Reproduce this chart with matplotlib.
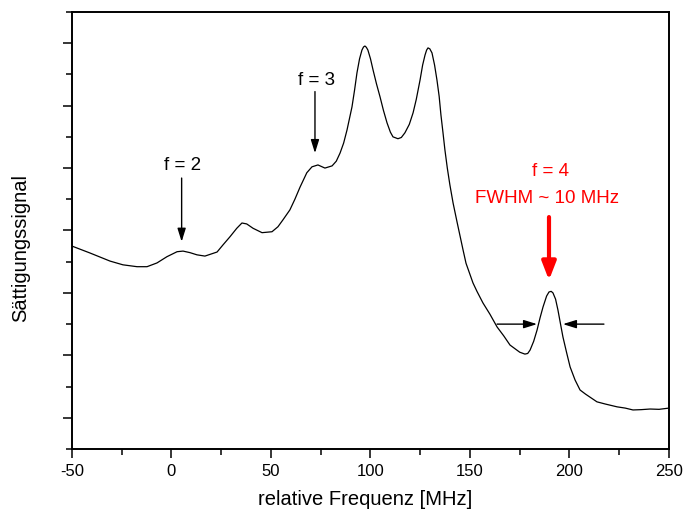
import matplotlib
matplotlib.use("Agg")
import matplotlib.pyplot as plt
from matplotlib.ticker import MultipleLocator, NullFormatter

plt.rcParams['font.family'] = ['Liberation Sans', 'DejaVu Sans']
plt.rcParams['axes.unicode_minus'] = False

# ── Data ─────────────────────────────────────────────────────────────────────
freq = [-50.0, -41.0, -30.9, -24.4, -17.3, -12.3, -7.3, -2.3, 2.8, 5.8, 9.3,
        12.8, 16.8, 22.9, 25.9, 29.4, 32.8, 35.4, 37.8, 41.0, 45.5, 50.5,
        53.5, 56.0, 59.5, 62.0, 64.6, 68.0, 70.6, 73.6, 77.1, 80.7, 82.8,
        84.7, 86.5, 88.2, 90.7, 92.0, 93.2, 94.5, 95.7, 96.5, 97.2, 97.9,
        98.7, 100.0, 101.3, 103.0, 104.8, 106.5, 108.3, 110.0, 111.3, 113.8,
        115.5, 117.3, 119.5, 121.4, 123.0, 124.9, 126.2, 127.4, 128.2, 128.9,
        129.8, 130.9, 132.2, 133.4, 134.5, 135.4, 136.4, 137.4, 138.6, 139.9,
        141.5, 143.5, 146.5, 148.0, 151.5, 153.5, 156.5, 160.0, 163.6, 167.0,
        170.1, 173.5, 175.0, 177.6, 179.0, 180.2, 182.0, 183.7, 185.2, 186.7,
        188.5, 189.7, 190.8, 191.7, 193.0, 194.2, 195.5, 196.7, 198.5, 200.3,
        202.8, 205.3, 208.0, 213.8, 218.0, 223.9, 228.0, 231.9, 236.0, 240.5,
        245.0, 250.0]
signal = [6.50, 6.28, 6.02, 5.90, 5.84, 5.84, 5.96, 6.16, 6.32, 6.34, 6.29,
          6.22, 6.18, 6.31, 6.54, 6.80, 7.07, 7.24, 7.21, 7.07, 6.93, 6.96,
          7.12, 7.34, 7.66, 8.00, 8.39, 8.85, 9.04, 9.10, 9.00, 9.07, 9.22,
          9.48, 9.80, 10.22, 10.96, 11.50, 12.05, 12.50, 12.78, 12.88, 12.91,
          12.87, 12.78, 12.50, 12.14, 11.70, 11.28, 10.85, 10.45, 10.15, 10.00,
          9.94, 9.98, 10.13, 10.40, 10.77, 11.20, 11.82, 12.30, 12.62, 12.78,
          12.85, 12.82, 12.69, 12.30, 11.82, 11.30, 10.70, 10.15, 9.58, 9.00,
          8.46, 7.88, 7.27, 6.38, 5.95, 5.32, 5.05, 4.68, 4.32, 3.91, 3.62,
          3.33, 3.17, 3.10, 3.04, 3.06, 3.17, 3.45, 3.81, 4.20, 4.55,
          4.90, 5.03, 5.05, 5.00, 4.80, 4.45, 4.00, 3.59, 3.10, 2.63,
          2.21, 1.89, 1.76, 1.51, 1.44, 1.35, 1.31, 1.25, 1.26, 1.28,
          1.27, 1.31]

# annotation anchors: (label, x, text_y, arrow_start_y, arrow_tip_y)
peak_labels = [("f = 2", 5.1, 9.07, 8.68, 6.64),
               ("f = 3", 72.1, 11.82, 11.45, 9.48)]
f4_x = 189.7
fwhm_y = 4.0
fwhm_left = (163.6, 183.7)
fwhm_right = (217.3, 196.7)

# ── Plot ──────────────────────────────────────────────────────────────────────
fig = plt.figure(figsize=(6.83, 5.15), dpi=100)
ax = fig.add_axes([0.1054, 0.1282, 0.8741, 0.8485])

ax.plot(freq, signal, color="black", lw=0.9)

black_arrow = dict(arrowstyle="-|>,head_length=0.8,head_width=0.25",
                   color="black", lw=1.0, mutation_scale=10,
                   shrinkA=0, shrinkB=0)
for label, x, ty, y0, y1 in peak_labels:
    ax.annotate("", xy=(x, y1), xytext=(x, y0), arrowprops=black_arrow)
    ax.text(x + 0.7, ty, label, ha="center", va="center", fontsize=13.5)

# f = 4 with FWHM marker
ax.annotate("", xy=(f4_x, 5.41), xytext=(f4_x, 7.43),
            arrowprops=dict(arrowstyle="-|>,head_length=0.9,head_width=0.35",
                            color="red", lw=3.0, mutation_scale=12,
                            shrinkA=0, shrinkB=0))
ax.text(f4_x + 1.0, 8.88, "f = 4", color="red", ha="center", va="center",
        fontsize=13.5)
ax.text(f4_x - 1.0, 8.04, "FWHM ~ 10 MHz", color="red", ha="center",
        va="center", fontsize=13.5)
ax.annotate("", xy=(fwhm_left[1], fwhm_y), xytext=(fwhm_left[0], fwhm_y),
            arrowprops=black_arrow)
ax.annotate("", xy=(fwhm_right[1], fwhm_y), xytext=(fwhm_right[0], fwhm_y),
            arrowprops=black_arrow)

# ── Formatting ────────────────────────────────────────────────────────────────
ax.set_xlim(-50, 250)
ax.set_ylim(0, 14)
ax.xaxis.set_major_locator(MultipleLocator(50))
ax.xaxis.set_minor_locator(MultipleLocator(25))
ax.yaxis.set_major_locator(MultipleLocator(2, offset=1))
ax.yaxis.set_minor_locator(MultipleLocator(2))
ax.yaxis.set_major_formatter(NullFormatter())

ax.tick_params(which="major", direction="out", length=6.5, width=1.1,
               labelsize=12, pad=4, top=False, right=False)
ax.tick_params(which="minor", direction="out", length=4, width=1.1,
               top=False, right=False)
for s in ax.spines.values():
    s.set_linewidth(1.4)

ax.set_xlabel("relative Frequenz [MHz]", fontsize=14.5)
ax.set_ylabel("Sättigungssignal", fontsize=14.5)
ax.xaxis.set_label_coords(0.491, -0.095)
ax.yaxis.set_label_coords(-0.07, 0.46)

fig.savefig("out.png", dpi=100)
